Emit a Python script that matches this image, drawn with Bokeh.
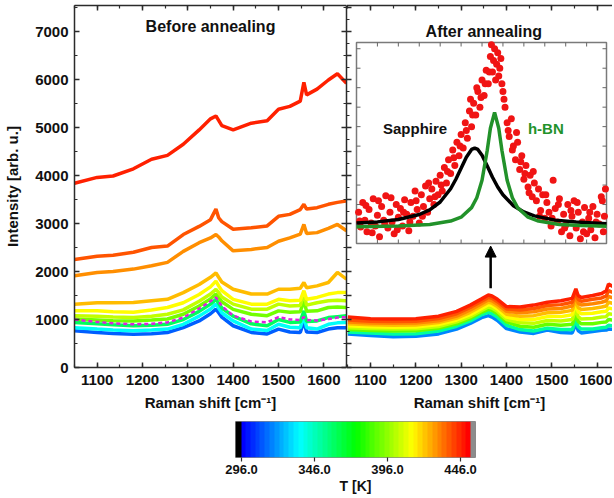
import numpy as np
from bokeh.plotting import figure
from bokeh.layouts import column, row
from bokeh.models import (Range1d, LinearAxis, SingleIntervalTicker, FixedTicker, Label,
                          Arrow, NormalHead, LinearColorMapper, PrintfTickFormatter)
from bokeh.embed import file_html
from bokeh.resources import INLINE

FONT = "Liberation Sans"

# ---------------- data ----------------
X_BEFORE = [1050, 1100, 1135, 1180, 1220, 1255, 1290, 1325, 1350, 1362, 1368, 1375, 1400,
            1440, 1475, 1500, 1525, 1548, 1556, 1562, 1585, 1610, 1630, 1650]
BEFORE_T = [310, 336, 360, 392, 404, 414, 424, 431, 440, 448]
BEFORE_310 = [765, 730, 710, 695, 705, 730, 830, 970, 1120, 1215, 1140, 1050, 870, 730, 700, 800, 740, 730, 960, 740, 730, 800, 830, 830]
BEFORE_336 = [830, 800, 780, 765, 780, 800, 900, 1070, 1220, 1320, 1240, 1140, 970, 800, 770, 900, 840, 830, 1070, 830, 800, 900, 930, 940]
BEFORE_360 = [940, 910, 890, 870, 880, 900, 1000, 1170, 1320, 1420, 1340, 1240, 1070, 910, 870, 1000, 940, 950, 1180, 960, 970, 1040, 1060, 1080]
BEFORE_392 = [1010, 990, 975, 970, 990, 1010, 1110, 1280, 1430, 1530, 1460, 1370, 1210, 1110, 1080, 1180, 1150, 1160, 1390, 1170, 1180, 1250, 1260, 1250]
BEFORE_404 = [1080, 1070, 1050, 1040, 1070, 1110, 1200, 1380, 1530, 1630, 1560, 1470, 1320, 1215, 1215, 1320, 1280, 1290, 1530, 1300, 1350, 1390, 1400, 1390]
BEFORE_414 = [1180, 1180, 1160, 1150, 1200, 1250, 1350, 1520, 1680, 1800, 1700, 1600, 1420, 1320, 1320, 1420, 1390, 1400, 1600, 1420, 1460, 1530, 1560, 1560]
BEFORE_424 = [1320, 1350, 1350, 1355, 1390, 1420, 1560, 1730, 1880, 1970, 1880, 1780, 1630, 1530, 1530, 1630, 1630, 1650, 1770, 1660, 1700, 1770, 1980, 1840]
BEFORE_431 = [1910, 1980, 2000, 2050, 2120, 2190, 2420, 2600, 2700, 2770, 2720, 2640, 2430, 2460, 2500, 2630, 2700, 2780, 2980, 2790, 2810, 2900, 2980, 2850]
BEFORE_440 = [2250, 2320, 2340, 2400, 2500, 2530, 2770, 2940, 3080, 3300, 3120, 3040, 2880, 2910, 2950, 3150, 3190, 3290, 3400, 3300, 3330, 3400, 3440, 3470]
BEFORE_448 = [3840, 3960, 3990, 4140, 4340, 4420, 4650, 4950, 5180, 5240, 5150, 5040, 4950, 5090, 5140, 5380, 5440, 5550, 5940, 5680, 5800, 5990, 6120, 5920]
BEFORE_DASHED = [1000, 950, 920, 900, 910, 940, 1040, 1230, 1380, 1460, 1380, 1280, 1080, 960, 940, 1050, 1000, 990, 1050, 990, 980, 1010, 1040, 1050]

X_AFTER = [1050, 1100, 1150, 1200, 1250, 1290, 1320, 1345, 1360, 1368, 1380, 1400, 1430,
           1460, 1490, 1520, 1545, 1553, 1558, 1565, 1590, 1610, 1620, 1625, 1650]
AFTER_T = [316, 350, 390, 404, 414, 424, 432, 440, 448]
AFTER_316 = [700, 665, 640, 650, 700, 800, 920, 1040, 1080, 1050, 980, 810, 740, 710, 780, 730, 720, 910, 770, 720, 750, 775, 780, 800, 790]
AFTER_350 = [740, 720, 700, 705, 760, 860, 970, 1100, 1150, 1120, 1050, 880, 790, 760, 820, 790, 790, 990, 850, 800, 800, 830, 840, 880, 850]
AFTER_390 = [790, 770, 760, 765, 815, 910, 1020, 1150, 1210, 1190, 1120, 950, 860, 840, 900, 880, 900, 1100, 960, 910, 910, 940, 950, 1000, 960]
AFTER_404 = [830, 810, 800, 805, 855, 950, 1060, 1190, 1260, 1240, 1170, 1000, 930, 920, 980, 970, 1000, 1220, 1060, 1010, 1020, 1050, 1060, 1120, 1080]
AFTER_414 = [870, 850, 840, 845, 895, 990, 1100, 1230, 1310, 1290, 1220, 1050, 1000, 1000, 1060, 1060, 1100, 1330, 1160, 1120, 1130, 1160, 1170, 1240, 1190]
AFTER_424 = [910, 890, 880, 885, 935, 1030, 1150, 1280, 1360, 1340, 1270, 1110, 1070, 1080, 1140, 1150, 1190, 1420, 1250, 1210, 1230, 1260, 1280, 1360, 1300]
AFTER_432 = [950, 925, 920, 925, 975, 1070, 1200, 1330, 1410, 1390, 1320, 1170, 1140, 1160, 1220, 1230, 1280, 1500, 1340, 1300, 1330, 1360, 1390, 1480, 1400]
AFTER_440 = [990, 965, 960, 965, 1020, 1120, 1250, 1380, 1460, 1440, 1370, 1220, 1200, 1230, 1290, 1310, 1360, 1570, 1420, 1380, 1420, 1450, 1490, 1600, 1500]
AFTER_448 = [1050, 1015, 1010, 1015, 1070, 1170, 1300, 1430, 1510, 1490, 1420, 1270, 1260, 1300, 1360, 1390, 1440, 1640, 1500, 1460, 1500, 1540, 1600, 1740, 1600]

INSET_X = [1232, 1233, 1234, 1236, 1238, 1239, 1240, 1242, 1244, 1245, 1246, 1248, 1250, 1251, 1252, 1254,
           1256, 1257, 1258, 1260, 1262, 1263, 1264, 1266, 1268, 1269, 1270, 1272, 1274, 1275, 1276, 1278,
           1280, 1281, 1282, 1284, 1286, 1287, 1288, 1290, 1292, 1293, 1294, 1296, 1298, 1299, 1300, 1302,
           1304, 1305, 1306, 1308, 1310, 1311, 1312, 1314, 1316, 1317, 1318, 1320, 1322, 1323, 1324, 1326,
           1328, 1329, 1330, 1332, 1334, 1335, 1336, 1338, 1339, 1340, 1341, 1342, 1344, 1345, 1346, 1348,
           1349, 1350, 1352, 1353, 1354, 1356, 1357, 1358, 1359, 1360, 1361, 1362, 1363, 1364, 1365, 1366,
           1367, 1368, 1369, 1370, 1371, 1372, 1374, 1375, 1376, 1378, 1379, 1380, 1382, 1383, 1384, 1386,
           1387, 1388, 1390, 1391, 1392, 1394, 1395, 1396, 1398, 1399, 1400, 1402, 1404, 1405, 1406, 1408,
           1410, 1411, 1412, 1414, 1416, 1417, 1418, 1420, 1422, 1423, 1424, 1426, 1428, 1429, 1430, 1432,
           1434, 1435, 1436, 1438, 1440, 1441, 1442, 1444, 1446, 1447, 1448, 1450, 1452, 1453, 1454, 1456,
           1458, 1459, 1460, 1462, 1464, 1465, 1466, 1467, 1468]
INSET_Y = [1060, 1015, 985, 1110, 1020, 1095, 960, 1075, 1005, 955, 1130, 990, 1045, 1120, 935, 1090,
           1020, 1000, 1145, 980, 1060, 1135, 1010, 950, 1100, 970, 1035, 1080, 990, 1060, 1125, 1050,
           965, 1010, 1110, 1040, 1170, 1120, 1075, 1005, 1150, 1040, 1090, 1195, 1060, 1210, 1130, 1180,
           1100, 1140, 1220, 1150, 1250, 1200, 1170, 1290, 1210, 1270, 1330, 1260, 1380, 1340, 1300, 1420,
           1350, 1400, 1460, 1390, 1520, 1480, 1440, 1580, 1640, 1500, 1560, 1620, 1560, 1700, 1680, 1600,
           1650, 1740, 1660, 1720, 1790, 1720, 1780, 1860, 1920, 1780, 1840, 1900, 1740, 1820, 1880, 1760,
           1800, 1850, 1720, 1680, 1640, 1600, 1520, 1480, 1450, 1540, 1380, 1400, 1330, 1470, 1420, 1280,
           1320, 1350, 1230, 1260, 1300, 1190, 1160, 1250, 1140, 1270, 1210, 1120, 1180, 1040, 1070, 1150,
           1030, 1150, 1110, 1060, 990, 1030, 1225, 1080, 1010, 1100, 1130, 960, 1050, 980, 995, 1100,
           940, 1070, 1040, 1120, 980, 1110, 1060, 925, 1010, 960, 1085, 950, 1030, 1060, 970, 1090,
           930, 1010, 1050, 1000, 1140, 1120, 960, 1040, 1180]

FIT_X_SAPPHIRE = [1230, 1250, 1270, 1290, 1300, 1310, 1320, 1325, 1330, 1335, 1340, 1343, 1346, 1350,
                  1355, 1360, 1365, 1370, 1380, 1390, 1400, 1420, 1440, 1469]
FIT_Y_SAPPHIRE = [1005, 1011, 1023, 1049, 1073, 1113, 1181, 1230, 1286, 1343, 1383, 1390, 1383, 1353,
                  1298, 1240, 1190, 1150, 1094, 1062, 1042, 1020, 1010, 1002]
FIT_X_HBN = [1230, 1270, 1300, 1320, 1330, 1340, 1345, 1350, 1355, 1358, 1362, 1366, 1369, 1374,
             1379, 1384, 1394, 1404, 1424, 1444, 1469]
FIT_Y_HBN = [986, 990, 998, 1015, 1035, 1084, 1135, 1225, 1379, 1492, 1573, 1492, 1379, 1225,
             1135, 1084, 1035, 1015, 998, 992, 988]

CB_TICKS = [296.0, 346.0, 396.0, 446.0]
T_LOW, T_HIGH = 295.5, 453.0

# ---------------- style helpers ----------------
def rainbow_hex(t):
    t = min(max(t, 0.0), 1.0)
    stops = [0.0, 0.25, 0.5, 0.75, 1.0]
    cols = [(0, 0, 255), (0, 255, 255), (0, 255, 0), (255, 255, 0), (255, 0, 0)]
    for i in range(4):
        if t <= stops[i + 1]:
            f = (t - stops[i]) / (stops[i + 1] - stops[i])
            c = [round(cols[i][k] + f * (cols[i + 1][k] - cols[i][k])) for k in range(3)]
            return "#%02x%02x%02x" % tuple(c)
    return "#ff0000"


def temp_color(T):
    return rainbow_hex((T - T_LOW) / (T_HIGH - T_LOW))


AX = "#2b2b2b"


def style_axis(ax, labels=True, interval=None):
    ax.axis_line_color = AX
    ax.axis_line_width = 1.5
    ax.major_tick_line_color = AX
    ax.major_tick_line_width = 1.5
    ax.minor_tick_line_color = AX
    ax.minor_tick_line_width = 1.2
    ax.major_tick_in = 5
    ax.major_tick_out = 0
    ax.minor_tick_in = 3
    ax.minor_tick_out = 0
    if interval is not None:
        ax.ticker = SingleIntervalTicker(interval=interval, num_minor_ticks=2)
    if labels:
        ax.major_label_text_font = FONT
        ax.major_label_text_font_style = "bold"
        ax.major_label_text_font_size = "15px"
        ax.major_label_text_color = "#111111"
        ax.axis_label_text_font = FONT
        ax.axis_label_text_font_style = "bold"
        ax.axis_label_text_font_size = "15px"
        ax.axis_label_text_color = "#111111"
    else:
        ax.major_label_text_font_size = "1px"
        ax.major_label_text_color = None
        ax.major_label_standoff = 0
        ax.axis_label = None


FRAME_T, FRAME_B = 5, 367
Y_TOP = 7542


def base_fig(width, x_range, border_left):
    p = figure(width=width, height=416, x_range=x_range, y_range=Range1d(0, Y_TOP),
               output_backend="svg", toolbar_location=None,
               min_border_left=border_left, min_border_right=0, min_border_top=FRAME_T,
               min_border_bottom=416 - FRAME_B, outline_line_color=None,
               background_fill_color="white", border_fill_color="white")
    p.xgrid.grid_line_color = None
    p.ygrid.grid_line_color = None
    return p


# ---------------- left panel: before annealing ----------------
pl = base_fig(346, Range1d(1050, 1650), 74)
style_axis(pl.xaxis[0], True, 100)
style_axis(pl.yaxis[0], True, 1000)
pl.xaxis[0].axis_label = "Raman shift [cm⁻¹]"
pl.yaxis[0].axis_label = "Intensity [arb. u.]"
pl.xaxis[0].major_label_standoff = 7
pl.xaxis[0].axis_label_standoff = 6
pl.yaxis[0].major_label_standoff = 6
pl.yaxis[0].axis_label_standoff = 11
top_l = LinearAxis()
style_axis(top_l, False, 100)
pl.add_layout(top_l, "above")
right_l = LinearAxis()
style_axis(right_l, False, 1000)
pl.add_layout(right_l, "right")

before = [BEFORE_310, BEFORE_336, BEFORE_360, BEFORE_392, BEFORE_404,
          BEFORE_414, BEFORE_424, BEFORE_431, BEFORE_440, BEFORE_448]
for T, ys in zip(BEFORE_T, before):
    pl.line(X_BEFORE, ys, line_color=temp_color(T), line_width=3.5)
pl.line(X_BEFORE, BEFORE_DASHED, line_color="#e020e0", line_width=2.5, line_dash="4 3")

pl.add_layout(Label(x=1350, y=7100, text="Before annealing", text_align="center",
                    text_baseline="middle", text_font=FONT, text_font_style="bold",
                    text_font_size="16px", text_color="#111111"))

# ---------------- right panel: after annealing ----------------
RIGHT_W = 266
pr = base_fig(RIGHT_W, Range1d(1047, 1047 + RIGHT_W / 0.4533), 0)
style_axis(pr.xaxis[0], True, 100)
style_axis(pr.yaxis[0], False, 500)
pr.xaxis[0].axis_label = "Raman shift [cm⁻¹]"
pr.xaxis[0].major_label_standoff = 7
pr.xaxis[0].axis_label_standoff = 6
top_r = LinearAxis()
style_axis(top_r, False, 100)
pr.add_layout(top_r, "above")

after = [AFTER_316, AFTER_350, AFTER_390, AFTER_404, AFTER_414,
         AFTER_424, AFTER_432, AFTER_440, AFTER_448]
for T, ys in zip(AFTER_T, after):
    pr.line(X_AFTER, ys, line_color=temp_color(T), line_width=3.5)

pr.add_layout(Label(x=1350, y=7000, text="After annealing", text_align="center",
                    text_baseline="middle", text_font=FONT, text_font_style="bold",
                    text_font_size="16px", text_color="#111111"))

pr.add_layout(Arrow(x_start=1365, y_start=1650, x_end=1365, y_end=2530, line_width=2.5,
                    line_color="black",
                    end=NormalHead(size=11, fill_color="black", line_color="black")))

# inset: its own ranges, placed over a sub-box of the right frame
IX0, IX1 = 1230, 1469
IY0, IY1 = 900, 1932
FRAME_L, FRAME_R = 346, 346 + RIGHT_W
BOX_L, BOX_R, BOX_T, BOX_B = 356, 606, 42, 243
sx = (BOX_R - BOX_L) / (IX1 - IX0)
sy = (BOX_B - BOX_T) / (IY1 - IY0)
pr.extra_x_ranges = {"ix": Range1d(IX0 - (BOX_L - FRAME_L) / sx, IX1 + (FRAME_R - BOX_R) / sx)}
pr.extra_y_ranges = {"iy": Range1d(IY0 - (FRAME_B - BOX_B) / sy, IY1 + (BOX_T - FRAME_T) / sy)}
INS = dict(x_range_name="ix", y_range_name="iy")

pr.quad(left=[IX0], right=[IX1], bottom=[IY0], top=[IY1], fill_color="white",
        line_color="#7a7a7a", line_width=1.5, **INS)
tl = 4.0
xt = list(range(1250, 1470, 20))
yt = list(range(1000, 1932, 100))
pr.segment(x0=xt, y0=[IY0] * len(xt), x1=xt, y1=[IY0 + tl / sy] * len(xt), line_color="#666666", line_width=1, **INS)
pr.segment(x0=xt, y0=[IY1] * len(xt), x1=xt, y1=[IY1 - tl / sy] * len(xt), line_color="#666666", line_width=1, **INS)
pr.segment(x0=[IX0] * len(yt), y0=yt, x1=[IX0 + tl / sx] * len(yt), y1=yt, line_color="#666666", line_width=1, **INS)
pr.segment(x0=[IX1] * len(yt), y0=yt, x1=[IX1 - tl / sx] * len(yt), y1=yt, line_color="#666666", line_width=1, **INS)

pr.scatter(INSET_X, INSET_Y, size=7, fill_color="#f01414", line_color=None, **INS)
pr.line(FIT_X_SAPPHIRE, FIT_Y_SAPPHIRE, line_color="black", line_width=3.5, **INS)
pr.line(FIT_X_HBN, FIT_Y_HBN, line_color="#22922a", line_width=3.5, **INS)

pr.add_layout(Label(x=1286, y=1491, text="Sapphire", text_align="center", text_baseline="middle",
                    text_font=FONT, text_font_style="bold", text_font_size="15px",
                    text_color="#111111", **INS))
pr.add_layout(Label(x=1411, y=1491, text="h-BN", text_align="center", text_baseline="middle",
                    text_font=FONT, text_font_style="bold", text_font_size="15px",
                    text_color="#22922a", **INS))

# ---------------- colour bar ----------------
CB_X0, CB_X1 = 291.9, 456.3
cb = figure(width=490, height=80, x_range=Range1d(CB_X0, CB_X1), y_range=Range1d(0, 1),
            output_backend="svg", toolbar_location=None,
            min_border_left=235, min_border_right=15, min_border_top=5, min_border_bottom=39,
            outline_line_color="#8a8a8a", outline_line_width=1)
cb.xgrid.grid_line_color = None
cb.ygrid.grid_line_color = None
cb.yaxis.visible = False
palette = [rainbow_hex(i / 47) for i in range(48)]
mapper = LinearColorMapper(palette=palette, low=T_LOW, high=T_HIGH,
                           low_color="black", high_color="#8c8c8c")
scale_row = np.array([np.linspace(CB_X0, CB_X1, 600)])
cb.image(image=[scale_row], x=CB_X0, y=0, dw=CB_X1 - CB_X0, dh=1, color_mapper=mapper)
ax = cb.xaxis[0]
ax.ticker = FixedTicker(ticks=CB_TICKS, minor_ticks=[])
ax.formatter = PrintfTickFormatter(format="%.1f")
ax.axis_line_color = None
ax.major_tick_line_color = AX
ax.major_tick_line_width = 1.2
ax.major_tick_in = 0
ax.major_tick_out = 4
ax.major_label_standoff = 3
ax.major_label_text_font = FONT
ax.major_label_text_font_style = "bold"
ax.major_label_text_font_size = "13px"
ax.major_label_text_color = "#111111"
ax.axis_label = "T [K]"
ax.axis_label_standoff = 1
ax.axis_label_text_font = FONT
ax.axis_label_text_font_style = "bold"
ax.axis_label_text_font_size = "14px"
ax.axis_label_text_color = "#111111"

layout = column(row(pl, pr), cb)
open("out.html", "w").write(file_html(layout, INLINE))
